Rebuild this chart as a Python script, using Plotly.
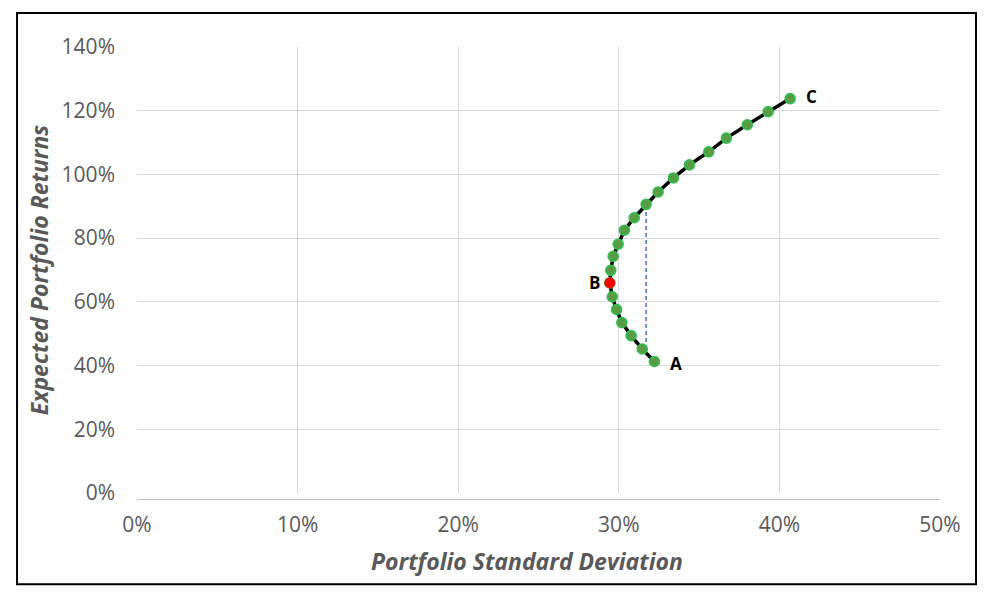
import plotly.graph_objects as go

# Portfolio frontier points (ordered from A to C), values in %
std_dev = [32.22, 31.46, 30.77, 30.19, 29.86, 29.59, 29.44, 29.50, 29.65, 29.96,
           30.35, 30.96, 31.70, 32.45, 33.40, 34.40, 35.60, 36.70, 38.00, 39.30, 40.67]
exp_ret = [41.3, 45.2, 49.4, 53.5, 57.6, 61.6, 65.95, 69.9, 74.3, 78.1,
           82.5, 86.4, 90.6, 94.5, 98.9, 103.0, 107.1, 111.4, 115.6, 119.7, 123.8]

min_var_index = 6          # point B
dash_top_index = 12        # dashed line top
dash_bottom_index = 1      # dashed line bottom
point_labels = {0: "A", 6: "B", 20: "C"}

x_ticks = [0, 10, 20, 30, 40, 50]
y_ticks = [0, 20, 40, 60, 80, 100, 120, 140]

FONT = "'Open Sans', sans-serif"
GRAY = "#595959"

fig = go.Figure()

# dashed vertical connector
fig.add_trace(go.Scatter(
    x=[std_dev[dash_top_index], std_dev[dash_top_index]],
    y=[exp_ret[dash_bottom_index], exp_ret[dash_top_index]],
    mode="lines",
    line=dict(color="#4472C4", width=1.5, dash="4px,3px"),
    hoverinfo="skip", showlegend=False))

# frontier line with markers
fig.add_trace(go.Scatter(
    x=std_dev, y=exp_ret, mode="lines+markers",
    line=dict(color="black", width=3.5),
    marker=dict(size=10, color="#5A9B45", line=dict(color="#2FBF4F", width=1.6)),
    hoverinfo="skip", showlegend=False))

# minimum variance point (B)
fig.add_trace(go.Scatter(
    x=[std_dev[min_var_index]], y=[exp_ret[min_var_index]], mode="markers",
    marker=dict(size=10, color="#FF0000", line=dict(color="#FF0000", width=1)),
    hoverinfo="skip", showlegend=False))

shifts = {"A": (22, -2), "B": (-15, 0), "C": (21, 2)}
for idx, lab in point_labels.items():
    dx, dy = shifts[lab]
    fig.add_annotation(x=std_dev[idx], y=exp_ret[idx], text="<b>%s</b>" % lab,
                       showarrow=False, xshift=dx, yshift=dy,
                       font=dict(family=FONT, size=17, color="black"))

# x-axis title (centred on the chart area, as in the original)
fig.add_annotation(xref="paper", yref="paper", x=0.4857, y=-0.153,
                   xanchor="center", yanchor="middle", showarrow=False,
                   text="<b><i>Portfolio Standard Deviation</i></b>",
                   font=dict(family=FONT, size=23, color=GRAY))

fig.update_xaxes(range=[0, 50], tickvals=x_ticks,
                 ticktext=["%d%%" % v for v in x_ticks],
                 showgrid=True, gridcolor="#D9D9D9", gridwidth=1.3,
                 zeroline=False, showline=True, linecolor="#BFBFBF", linewidth=1.3,
                 ticks="", ticklen=0, ticklabelstandoff=7,
                 tickfont=dict(family=FONT, size=21, color=GRAY))
fig.update_yaxes(range=[0, 140], tickvals=y_ticks,
                 ticktext=["%d%%" % v for v in y_ticks],
                 showgrid=True, gridcolor="#D9D9D9", gridwidth=1.3,
                 zeroline=False, showline=False,
                 ticks="", ticklen=0, ticklabelstandoff=15,
                 tickfont=dict(family=FONT, size=21, color=GRAY),
                 title=dict(text="<b><i>Expected Portfolio Returns</i></b>",
                            font=dict(family=FONT, size=23, color=GRAY), standoff=12))

# outer chart border
fig.add_shape(type="rect", xref="paper", yref="paper",
              x0=-0.1494, x1=1.0448, y0=-0.2048, y1=1.0763,
              line=dict(color="black", width=2), fillcolor="rgba(0,0,0,0)", layer="below")

fig.update_layout(width=990, height=598,
                  margin=dict(l=129, r=58, t=39, b=113, pad=6),
                  paper_bgcolor="white", plot_bgcolor="white",
                  hovermode=False, showlegend=False)

fig.write_html("out.html")
